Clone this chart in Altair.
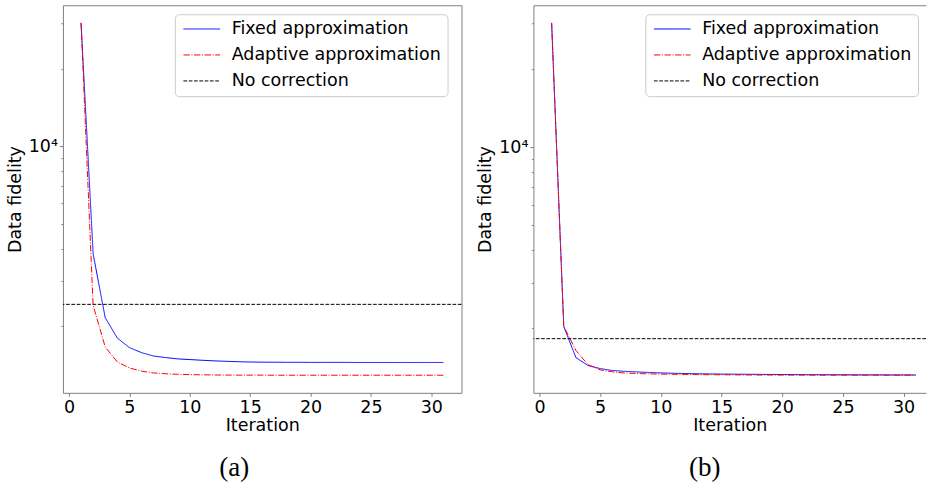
import altair as alt
import pandas as pd

iterations = list(range(1, 32))
series_names = ["Fixed approximation", "Adaptive approximation", "No correction"]
series_colors = ["#0000ff", "#ff0000", "#000000"]
series_dashes = [[1, 0], [6.4, 1.6, 1.0, 1.6], [3.7, 1.6]]

x_ticks = [0, 5, 10, 15, 20, 25, 30]
y_ticks = [2000, 3000, 4000, 5000, 6000, 7000, 8000, 9000, 10000, 20000, 30000]

# Panel (a)
fixed_a = [30200, 3822, 2158, 1799, 1651, 1578, 1531, 1510, 1492, 1483, 1474,
           1466, 1460, 1455, 1451, 1449, 1448, 1447, 1447, 1446, 1446, 1446,
           1446, 1445, 1445, 1445, 1445, 1445, 1445, 1445, 1445]
adaptive_a = [30200, 2409, 1660, 1452, 1376, 1337, 1316, 1306, 1300, 1296, 1294,
              1292, 1291, 1290, 1290, 1290, 1289, 1289, 1289, 1289, 1289, 1289,
              1289, 1289, 1289, 1289, 1289, 1289, 1289, 1289, 1289]
no_correction_a = 2431

# Panel (b)
fixed_b = [30200, 2031, 1539, 1435, 1396, 1372, 1362, 1355, 1348, 1343, 1339,
           1336, 1333, 1331, 1329, 1328, 1327, 1326, 1325, 1324, 1323, 1322,
           1322, 1321, 1321, 1320, 1320, 1320, 1319, 1319, 1319]
adaptive_b = [30200, 2031, 1641, 1445, 1380, 1356, 1342, 1336, 1332, 1329, 1327,
              1325, 1323, 1322, 1321, 1320, 1319, 1318, 1318, 1317, 1317, 1317,
              1316, 1316, 1316, 1316, 1316, 1316, 1316, 1316, 1316]
no_correction_b = 1821

FONT = "DejaVu Sans"
FS = 17.5
GRAY = "#808080"


def make_panel(fixed, adaptive, nocorr, xdomain, width, ydomain, caption, dx, full_frame):
    df = pd.DataFrame({
        "Iteration": iterations + iterations,
        "value": fixed + adaptive,
        "series": [series_names[0]] * len(iterations) + [series_names[1]] * len(iterations),
    })
    rule_df = pd.DataFrame({"value": [nocorr], "series": [series_names[2]]})

    legend = alt.Legend(
        title=None, orient="none", legendX=112, legendY=9, direction="vertical",
        fillColor="white", strokeColor="#cccccc", cornerRadius=4, padding=6,
        labelFont=FONT, labelFontSize=FS, labelColor="black", labelLimit=500,
        symbolType="M-1,0H5", symbolSize=149, symbolStrokeWidth=1,
        labelOffset=33.4, rowPadding=7,
    )
    color = alt.Color("series:N", scale=alt.Scale(domain=series_names, range=series_colors), legend=legend)
    dash = alt.StrokeDash("series:N", scale=alt.Scale(domain=series_names, range=series_dashes), legend=legend)

    xscale = alt.Scale(domain=xdomain, nice=False, zero=False)
    yscale = alt.Scale(type="log", domain=ydomain, nice=False)

    xaxis = alt.Axis(values=x_ticks, title="Iteration", grid=False, domain=not full_frame,
                     tickSize=3.5, labelPadding=2, titlePadding=1, labelFlush=False)
    yaxis = alt.Axis(values=y_ticks, title="Data fidelity", grid=False, domain=not full_frame,
                     labelExpr="datum.value == 10000 ? '10⁴' : ''",
                     tickSize={"condition": {"test": "datum.value == 10000", "value": 3.5}, "value": 2},
                     labelPadding=2, titlePadding=4)

    y_enc = alt.Y("value:Q", scale=yscale, axis=yaxis)

    lines = alt.Chart(df).mark_line(strokeWidth=1, clip=True).encode(
        x=alt.X("Iteration:Q", scale=xscale, axis=xaxis),
        y=y_enc,
        color=color,
        strokeDash=dash,
    )
    rule = alt.Chart(rule_df).mark_rule(strokeWidth=1).encode(
        y=y_enc,
        color=color,
        strokeDash=dash,
    )
    layers = [lines, rule]
    if not full_frame:
        top = alt.Chart(df).mark_point(opacity=0).encode(
            x=alt.X("Iteration:Q", scale=xscale,
                    axis=alt.Axis(orient="top", labels=False, ticks=False, domain=True,
                                  title=None, grid=False)),
            y=y_enc,
        )
        layers.append(top)

    chart = alt.layer(*layers).properties(
        width=width, height=388,
        title=alt.Title(caption, orient="bottom", anchor="middle", font="Liberation Serif",
                        fontSize=27, fontWeight="normal", color="black", offset=21, dx=dx),
        view=alt.ViewBackground(stroke=GRAY if full_frame else None, strokeWidth=1),
    )
    if not full_frame:
        chart = chart.resolve_axis(x="independent")
    return chart


panel_a = make_panel(fixed_a, adaptive_a, no_correction_a, [-0.5, 32.5], 399,
                     [1101, 35370], "(a)", -28, True)
panel_b = make_panel(fixed_b, adaptive_b, no_correction_b, [-0.5, 31.85], 393,
                     [1125, 35330], "(b)", -25, False)

chart = alt.hconcat(panel_a, panel_b, spacing=14).resolve_scale(
    color="independent", strokeDash="independent"
).properties(
    padding={"left": 5, "top": 4, "right": 0, "bottom": 0},
    background="white",
).configure_axis(
    labelFont=FONT, labelFontSize=FS, labelColor="black",
    titleFont=FONT, titleFontSize=FS, titleColor="black", titleFontWeight="normal",
    tickColor=GRAY, domainColor=GRAY, tickWidth=1, domainWidth=1,
).configure_view(stroke=None)

chart.save("out.html", embed_options={"renderer": "svg", "actions": False})
